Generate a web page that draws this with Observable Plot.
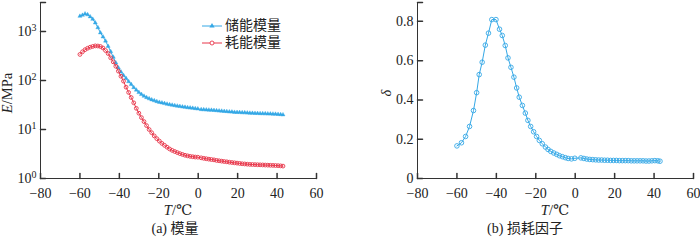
<!DOCTYPE html>
<html><head><meta charset="utf-8">
<script src="https://cdn.jsdelivr.net/npm/d3@7"></script>
<script src="https://cdn.jsdelivr.net/npm/@observablehq/plot@0.6"></script>
<style>
body{margin:0;background:#fff;}
#wrap{display:flex;width:700px;height:240px;font-family:"Times New Roman","Liberation Serif","DejaVu Serif","Noto Sans CJK SC",serif;color:#222;}
.panel{width:350px;position:relative;}
.panel svg{display:block;}
.cap{height:22px;line-height:22px;font-size:14px;text-align:center;color:#222;}
.legend{position:absolute;left:201px;top:17px;font-size:14px;line-height:17px;}
.legend div{display:flex;align-items:center;height:17px;}
.legend svg{margin-right:2px;}
</style></head><body>
<div id="wrap"><div class="panel" id="pa"></div><div class="panel" id="pb"></div></div>
<script>
const tempA = [-60,-58.7,-57.4,-56.1,-54.8,-53.5,-52.2,-50.9,-49.6,-48.3,
-47,-45.7,-44.4,-43.1,-41.8,-40.5,-39.2,-37.9,-36.6,-35.3,
-34,-32.7,-31.4,-30.1,-28.8,-27.5,-26.2,-24.9,-23.6,-22.3,
-21,-19.7,-18.4,-17.1,-15.8,-14.5,-13.2,-11.9,-10.6,-9.3,
-8,-6.7,-5.4,-4.1,-2.8,-1.5,-0.2,
1.5,2.8,4.1,5.4,6.7,8,9.3,10.6,11.9,13.2,14.5,15.8,17.1,18.4,19.7,21,22.3,23.6,24.9,26.2,27.5,28.8,30.1,31.4,32.7,34,35.3,36.6,37.9,39.2,40.5,41.8,43];
const storage = [2050,2150,2290,2200,2000,1780,1500,1200,940,780,
640,500,390,300,230,182,150,127,110,95,
83,72,64,57,52,48,45,42.5,40.5,38.8,
37.3,36,35,34,33,32.2,31.5,30.8,30.2,29.6,
29,28.5,28,27.6,27.2,26.8,26.4,
25.6,25.4,25.2,25.0,24.8,24.6,24.3,24.0,23.8,23.5,23.3,23.0,22.8,22.5,22.4,22.3,22.1,22.0,21.8,21.6,21.5,21.4,21.3,21.2,21.1,21.0,20.9,20.8,20.7,20.6,20.4,20.2,20.0];
const loss = [340,385,425,455,478,495,508,505,494,460,
408,355,290,240,195,155,122,97,73,57,
45,35,27,21.5,17.5,14.5,12,10,8.6,7.4,
6.5,5.8,5.2,4.75,4.35,4.0,3.75,3.55,3.38,3.22,
3.1,2.98,2.9,2.83,2.78,2.74,2.72,
2.64,2.58,2.53,2.48,2.44,2.40,2.34,2.30,2.26,2.22,2.19,2.15,2.12,2.09,2.06,2.03,2.00,1.98,1.96,1.94,1.93,1.92,1.91,1.90,1.89,1.88,1.87,1.86,1.85,1.84,1.83,1.81,1.79];
const tempB = [-60,-57.7,-55.6,-53.6,-51.6,-50.0,-48.7,-47.2,-45.6,-44.0,-42.3,-40.2,-38.4,-37.0,-35.5,-34.1,-32.6,-31.1,-29.7,-28.4,-26.8,-25.3,-24.0,-22.6,-21.1,-19.6,-18.2,-16.7,-15.1,-13.8,-12.4,-10.9,-9.4,-8.0,-6.5,-5.0,-3.6,-1.9,-0.2,
2.9,4.4,5.9,7.4,8.9,10.4,11.9,13.4,14.9,16.4,17.9,19.4,20.9,22.4,23.9,25.4,26.9,28.4,29.9,31.4,32.9,34.4,35.9,37.4,38.9,40.4,41.9,43];
const lossFactor = [0.166,0.182,0.214,0.265,0.346,0.437,0.529,0.592,0.679,0.740,0.809,0.809,0.760,0.728,0.677,0.614,0.566,0.516,0.461,0.414,0.372,0.333,0.296,0.265,0.238,0.214,0.194,0.177,0.160,0.148,0.138,0.130,0.123,0.116,0.111,0.106,0.102,0.100,0.103,
0.105,0.102,0.099,0.097,0.096,0.095,0.094,0.094,0.093,0.093,0.092,0.092,0.092,0.091,0.091,0.091,0.091,0.090,0.090,0.090,0.090,0.090,0.089,0.089,0.090,0.091,0.090,0.088];
const xTicks = [-80,-60,-40,-20,0,20,40,60];
const yTicksA = [1,10,100,1000];
const yTicksB = [0,0.2,0.4,0.6,0.8];
const seriesNames = ["储能模量","耗能模量"];
const captions = ["(a)  模量","(b)  损耗因子"];

const FONT = '"Times New Roman","Liberation Serif","DejaVu Serif","Noto Sans CJK SC",serif';
const BLUE = "#35a8e6", RED = "#e8364a", AX = "#333";
const tickShape = {draw(ctx, l){ ctx.moveTo(0,0); ctx.lineTo(0,-l); }};
const rowsA = tempA.map((t,i)=>({t, s: storage[i], l: loss[i]}));
const rowsB = tempB.map((t,i)=>({t, d: lossFactor[i]}));

function axesMarks(yTicks, yMin, yMax, fmt){
  return [
    Plot.ruleX([-80], {stroke: AX, strokeWidth: 1}),
    Plot.ruleY([yMin], {stroke: AX, strokeWidth: 1}),
    Plot.vector(xTicks, {x: d=>d, y: ()=>yMin, length: 5, rotate: 0, anchor: "start", shape: tickShape, stroke: AX}),
    Plot.vector([...yTicks, yMax], {x: ()=>-80, y: d=>d, length: 5, rotate: 90, anchor: "start", shape: tickShape, stroke: AX}),
    Plot.axisX(xTicks, {tickSize: 0, tickPadding: 10, fontSize: 14, label: null, fill: "#222"}),
    Plot.axisY(yTicks, {tickSize: 0, tickPadding: 4, fontSize: 14, label: null, tickFormat: fmt, fill: "#222"})
  ];
}

const common = {width: 350, height: 218, marginTop: 2, marginBottom: 40,
  style: {fontFamily: FONT, fontSize: "14px", background: "#fff", overflow: "visible"}};

const svgA = Plot.plot({...common, marginLeft: 40, marginRight: 34,
  x: {domain: [-80, 60]},
  y: {type: "log", domain: [1, 3900]},
  marks: [
    ...axesMarks(yTicksA, 1, 3900, d => "10^" + Math.round(Math.log10(d))),
    Plot.line(rowsA, {x: "t", y: "s", stroke: BLUE, strokeWidth: 1}),
    Plot.dot(rowsA, {x: "t", y: "s", symbol: "triangle", r: 1.5, fill: BLUE, stroke: BLUE, strokeWidth: 0.4}),
    Plot.line(rowsA, {x: "t", y: "l", stroke: RED, strokeWidth: 1}),
    Plot.dot(rowsA, {x: "t", y: "l", r: 1.9, fill: "none", stroke: RED, strokeWidth: 0.9})
  ]
});
const svgB = Plot.plot({...common, marginLeft: 67, marginRight: 7,
  x: {domain: [-80, 60]},
  y: {domain: [0, 0.896]},
  marks: [
    ...axesMarks(yTicksB, 0, 0.896, d => d === 0 ? "0" : d3.format(".1f")(d)),
    Plot.line(rowsB, {x: "t", y: "d", stroke: BLUE, strokeWidth: 1}),
    Plot.dot(rowsB, {x: "t", y: "d", r: 2.3, fill: "none", stroke: BLUE, strokeWidth: 0.9})
  ]
});

// superscript exponents on log ticks
d3.select(svgA).selectAll('g[aria-label="y-axis tick label"] text').each(function(){
  const s = this.textContent.split("^");
  if (s.length === 2) {
    const t = d3.select(this); t.text(null);
    t.append("tspan").text(s[0]);
    t.append("tspan").attr("dy", "-0.45em").attr("font-size", "10px").text(s[1]);
  }
});

function addLabels(svg, cx, yLabelX, yParts){
  const s = d3.select(svg);
  const xl = s.append("text").attr("x", cx).attr("y", 215).attr("text-anchor", "middle")
    .attr("font-size", 14.5).attr("fill", "#222");
  xl.append("tspan").attr("font-style", "italic").text("T");
  xl.append("tspan").text("/℃");
  const yl = s.append("text").attr("transform", `translate(${yLabelX},93) rotate(-90)`)
    .attr("text-anchor", "middle").attr("font-size", 14.5).attr("fill", "#222");
  yl.append("tspan").attr("font-style", "italic").text(yParts[0]);
  if (yParts[1]) yl.append("tspan").text(yParts[1]);
}
addLabels(svgA, 178, 12, ["E", "/MPa"]);
addLabels(svgB, 205, 41, ["δ"]);

const pa = document.getElementById("pa"), pb = document.getElementById("pb");
pa.appendChild(svgA);
pb.appendChild(svgB);
[pa, pb].forEach((p, i) => {
  const c = document.createElement("div"); c.className = "cap"; c.textContent = captions[i]; p.appendChild(c);
});

// legend
const leg = document.createElement("div"); leg.className = "legend";
[[BLUE, "tri"], [RED, "circ"]].forEach(([col, sym], i) => {
  const row = document.createElement("div");
  const sw = d3.create("svg").attr("width", 22).attr("height", 10);
  sw.append("line").attr("x1", 1).attr("x2", 21).attr("y1", 5).attr("y2", 5).attr("stroke", col).attr("stroke-width", 1);
  if (sym === "tri") sw.append("path").attr("d", d3.symbol(d3.symbolTriangle, 12)()).attr("transform", "translate(11,5)").attr("fill", col);
  else sw.append("circle").attr("cx", 11).attr("cy", 5).attr("r", 2).attr("fill", "#fff").attr("stroke", col).attr("stroke-width", 0.9);
  row.appendChild(sw.node());
  const tx = document.createElement("span"); tx.textContent = seriesNames[i]; row.appendChild(tx);
  leg.appendChild(row);
});
pa.appendChild(leg);
</script></body></html>
